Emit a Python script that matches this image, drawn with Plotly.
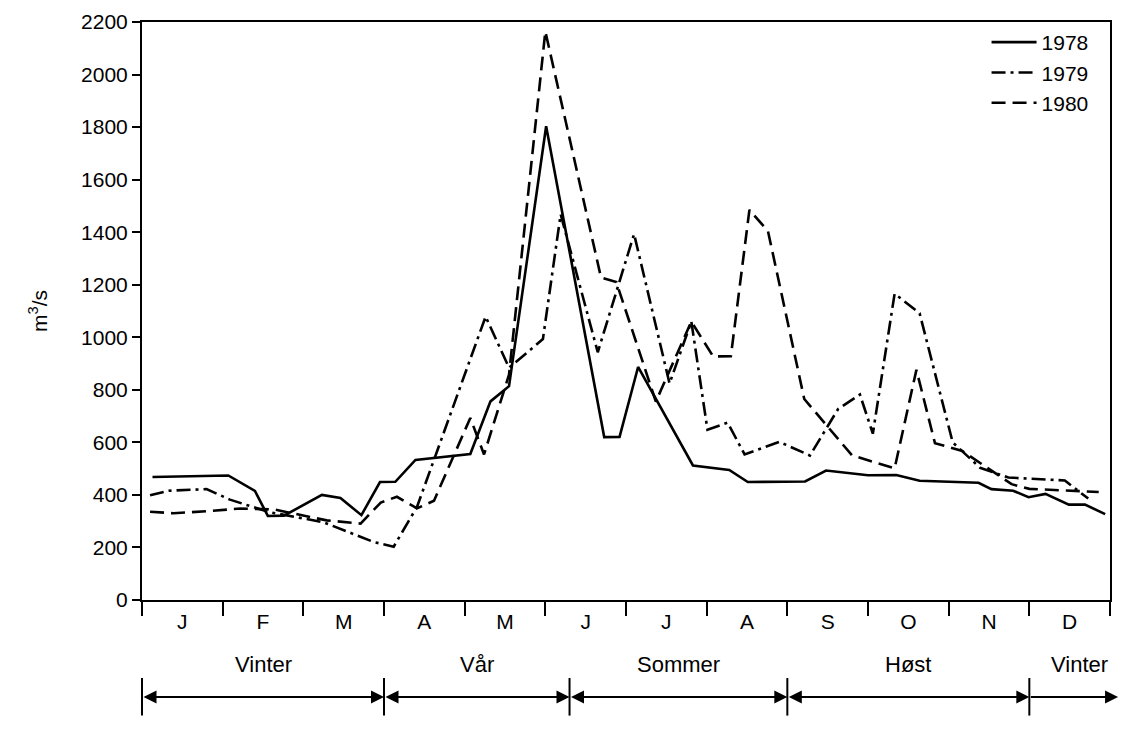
import plotly.graph_objects as go

# ---- data (x = position in months from 1 Jan, 0..12) ----
months = ['J', 'F', 'M', 'A', 'M', 'J', 'J', 'A', 'S', 'O', 'N', 'D']
month_centers = [i + 0.5 for i in range(12)]
month_edges = list(range(13))

x1978 = [0.13, 1.07, 1.40, 1.56, 1.76, 2.23, 2.46, 2.72, 2.95, 3.14, 3.39, 4.07, 4.32, 4.55,
         5.01, 5.73, 5.92, 6.15, 6.83, 7.28, 7.51, 8.22, 8.48, 9.0, 9.35, 9.64, 10.37, 10.53,
         10.8, 10.99, 11.2, 11.49, 11.69, 11.94]
v1978 = [468, 474, 415, 320, 321, 400, 388, 323, 449, 450, 533, 556, 756, 814,
         1803, 620, 621, 887, 512, 495, 449, 451, 493, 475, 476, 454, 446, 422,
         416, 391, 404, 363, 363, 327]

x1979 = [0.1, 0.33, 0.8, 1.09, 1.57, 2.25, 2.87, 3.12, 3.41, 4.26, 4.55, 4.97, 5.19, 5.65,
         6.1, 6.54, 6.81, 7.01, 7.26, 7.47, 7.9, 8.28, 8.63, 8.9, 9.06, 9.33, 9.64, 10.05,
         10.39, 10.74, 11.44, 11.73]
v1979 = [399, 416, 422, 382, 335, 296, 221, 203, 355, 1079, 884, 993, 1468, 943,
         1393, 824, 1060, 648, 675, 554, 602, 550, 727, 782, 633, 1166, 1091, 600,
         503, 466, 455, 386]

x1980 = [0.1, 0.39, 0.8, 1.22, 1.63, 2.29, 2.71, 2.96, 3.16, 3.41, 3.62, 4.07, 4.24, 4.55,
         5.0, 5.69, 5.88, 6.37, 6.81, 7.08, 7.3, 7.53, 7.76, 8.21, 8.8, 9.33, 9.6, 9.83,
         10.17, 10.78, 11.0, 11.86]
v1980 = [336, 330, 338, 348, 345, 303, 291, 371, 393, 349, 378, 693, 554, 858,
         2164, 1228, 1210, 755, 1060, 927, 928, 1485, 1404, 765, 551, 501, 876, 597,
         567, 441, 423, 411]

y_ticks = list(range(0, 2201, 200))

seasons = ['Vinter', 'Vår', 'Sommer', 'Høst', 'Vinter']
season_bounds = [0, 3, 5.3, 8, 11, 12.1]
season_label_x = [1.5, 4.15, 6.65, 9.5, 11.62]

FONT = 'Liberation Sans, Arial, sans-serif'

fig = go.Figure()
fig.add_trace(go.Scatter(x=x1978, y=v1978, mode='lines', name='1978',
                         line=dict(color='black', width=2.6, dash='solid')))
fig.add_trace(go.Scatter(x=x1979, y=v1979, mode='lines', name='1979',
                         line=dict(color='black', width=2.6, dash='14px,5px,3px,5px')))
fig.add_trace(go.Scatter(x=x1980, y=v1980, mode='lines', name='1980',
                         line=dict(color='black', width=2.6, dash='14px,7px')))

# season arrows and labels
arrow_y = -0.168
for i, name in enumerate(seasons):
    a, b = season_bounds[i], season_bounds[i + 1]
    last = (i == len(seasons) - 1)
    fig.add_annotation(x=b, y=arrow_y, xref='x', yref='paper', ax=a, ay=0, axref='x',
                       text='', showarrow=True, arrowhead=2, startarrowhead=2,
                       arrowside='end' if last else 'end+start', arrowsize=1.3,
                       startarrowsize=1.3, arrowwidth=2, arrowcolor='black',
                       standoff=0, startstandoff=0)
    fig.add_annotation(x=season_label_x[i], y=-0.112, xref='x', yref='paper', text=name,
                       yanchor='middle', showarrow=False,
                       font=dict(family=FONT, size=22, color='black'))
for b in season_bounds[:-1]:
    fig.add_shape(type='line', xref='paper', yref='paper', x0=b / 12, x1=b / 12,
                  y0=-0.135, y1=-0.2, line=dict(color='black', width=2))

fig.update_layout(
    width=1126, height=724,
    margin=dict(l=134, r=24, t=14, b=132, autoexpand=False),
    paper_bgcolor='white', plot_bgcolor='white',
    font=dict(family=FONT, size=21, color='black'),
    showlegend=True,
    legend=dict(x=0.983, y=1.0, xanchor='right', yanchor='top', bgcolor='rgba(0,0,0,0)',
                font=dict(family=FONT, size=21, color='black'), itemwidth=45,
                tracegroupgap=0),
    xaxis=dict(range=[0, 12], showgrid=False, zeroline=False, showline=True, mirror=True,
               automargin=False,
               linecolor='black', linewidth=2, tickmode='array', tickvals=month_centers,
               ticktext=months, ticks='', ticklabelstandoff=2,
               tickfont=dict(family=FONT, size=21, color='black'),
               minor=dict(tickmode='array', tickvals=month_edges, ticks='outside',
                          ticklen=14, tickwidth=2, tickcolor='black', showgrid=False)),
    yaxis=dict(range=[0, 2200], showgrid=False, zeroline=False, showline=True, mirror=True,
               automargin=False,
               linecolor='black', linewidth=2, tickmode='array', tickvals=y_ticks,
               ticks='outside', ticklen=8, tickwidth=2, tickcolor='black',
               tickfont=dict(family=FONT, size=21, color='black'),
               title=dict(text='m<sup>3</sup>/s', standoff=28,
                          font=dict(family=FONT, size=21, color='black'))),
)

fig.write_html('out.html')
